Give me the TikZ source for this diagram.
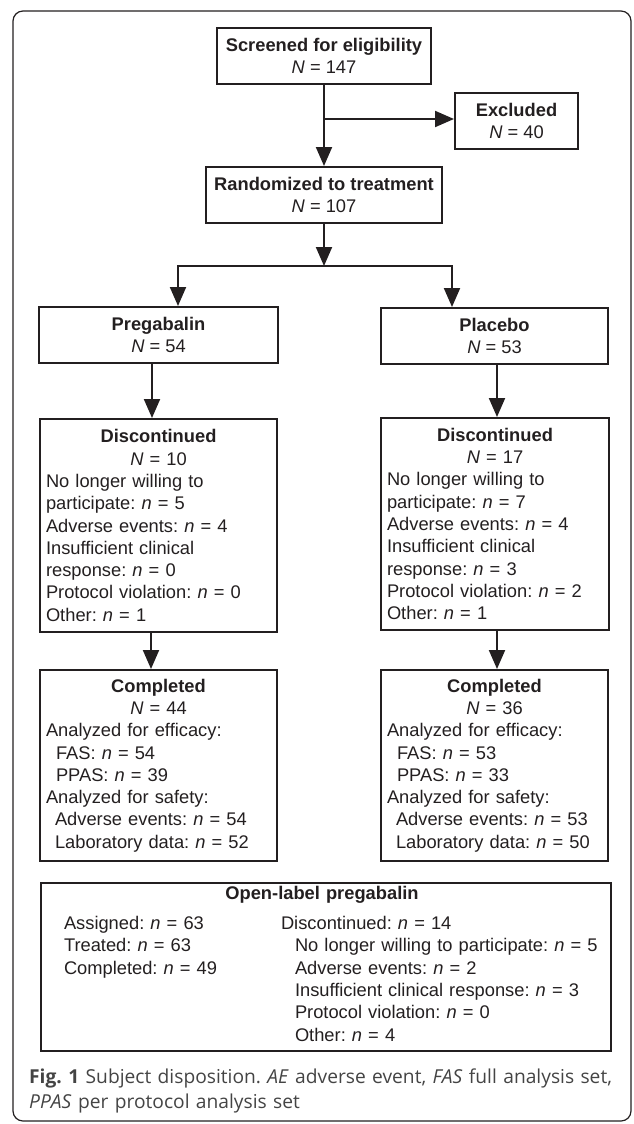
\documentclass[tikz,border=0pt]{standalone}
\usepackage{fontspec}
\setmainfont{Liberation Sans}
\newfontfamily\capfont{Open Sans}
\usetikzlibrary{arrows.meta}
\definecolor{ink}{HTML}{231F20}
\definecolor{captext}{HTML}{444444}
\newcommand{\boxmid}[1]{\makebox[\linewidth]{#1}}
\frenchspacing

\begin{document}
\begin{tikzpicture}[x=1pt, y=-1pt,
  box/.style={draw=ink, line width=2pt, text=ink, inner xsep=6pt, inner ysep=0pt,
    font=\fontsize{18.3}{22.3}\selectfont},
  headbox/.style={box, align=center},
  listbox/.style={box, align=left},
  link/.style={draw=ink, line width=2pt},
  arr/.style={link, -{Triangle[length=19pt,width=16pt]}}]
\useasboundingbox (0,0) rectangle (634,1124);
\draw[ink, line width=1.2pt, rounded corners=10pt] (13,11) rectangle (631,1121);

% top of the flow
\node[headbox, minimum width=214pt, minimum height=56pt] (screen) at (324,56) {\textbf{Screened for eligibility}\\\textit{N} = 147};
\node[headbox, minimum width=123pt, minimum height=56pt] (excl) at (516.5,121) {\textbf{Excluded}\\\textit{N} = 40};
\node[headbox, minimum width=236pt, minimum height=56pt] (rand) at (324,195) {\textbf{Randomized to treatment}\\\textit{N} = 107};

% the two arms
\node[headbox, minimum width=239pt, minimum height=56pt] (preg) at (158.5,335) {\textbf{Pregabalin}\\\textit{N} = 54};
\node[headbox, minimum width=227pt, minimum height=56pt] (plac) at (494.5,336) {\textbf{Placebo}\\\textit{N} = 53};

\node[listbox, text width=225pt, minimum height=213pt] (discL) at (158.5,525.5) {\boxmid{\textbf{Discontinued}}\\
  \boxmid{\textit{N} = 10}\\
  No longer willing to\\
  participate: \textit{n} = 5\\
  Adverse events: \textit{n} = 4\\
  Insufficient clinical\\
  response: \textit{n} = 0\\
  Protocol violation: \textit{n} = 0\\
  Other: \textit{n} = 1};
\node[listbox, text width=216pt, minimum height=212pt] (discR) at (495,524) {\boxmid{\textbf{Discontinued}}\\
  \boxmid{\textit{N} = 17}\\
  No longer willing to\\
  participate: \textit{n} = 7\\
  Adverse events: \textit{n} = 4\\
  Insufficient clinical\\
  response: \textit{n} = 3\\
  Protocol violation: \textit{n} = 2\\
  Other: \textit{n} = 1};

\node[listbox, text width=225pt, minimum height=191pt] (compL) at (158.5,765.5) {\boxmid{\textbf{Completed}}\\
  \boxmid{\textit{N} = 44}\\
  Analyzed for efficacy:\\
  \hspace*{10pt}FAS: \textit{n} = 54\\
  \hspace*{10pt}PPAS: \textit{n} = 39\\
  Analyzed for safety:\\
  \hspace*{9pt}Adverse events: \textit{n} = 54\\
  \hspace*{9pt}Laboratory data: \textit{n} = 52};
\node[listbox, text width=215pt, minimum height=191pt] (compR) at (494.5,765.5) {\boxmid{\textbf{Completed}}\\
  \boxmid{\textit{N} = 36}\\
  Analyzed for efficacy:\\
  \hspace*{10pt}FAS: \textit{n} = 53\\
  \hspace*{10pt}PPAS: \textit{n} = 33\\
  Analyzed for safety:\\
  \hspace*{9pt}Adverse events: \textit{n} = 53\\
  \hspace*{9pt}Laboratory data: \textit{n} = 50};

% open-label phase
\node[listbox, text width=558pt, minimum height=168pt] (open) at (326,967) {\vspace*{8pt}%
  \boxmid{\textbf{Open-label pregabalin}\hspace*{8pt}}\\
  \hspace*{17pt}\begin{tabular}[t]{@{}p{217pt}@{}l@{}}
  Assigned: \textit{n} = 63 & Discontinued: \textit{n} = 14\\
  Treated: \textit{n} = 63 & \hspace*{14pt}No longer willing to participate: \textit{n} = 5\\
  Completed: \textit{n} = 49 & \hspace*{14pt}Adverse events: \textit{n} = 2\\
  & \hspace*{14pt}Insufficient clinical response: \textit{n} = 3\\
  & \hspace*{14pt}Protocol violation: \textit{n} = 0\\
  & \hspace*{14pt}Other: \textit{n} = 4
  \end{tabular}};

% connectors
\coordinate (split) at (324,119);
\coordinate (fork) at (324,266);
\coordinate (forkL) at (178,266);
\coordinate (forkR) at (452,266);
\draw[link] (screen.south) -- (split);
\draw[arr] (split) -- (rand.north);
\draw[arr] (split) -- (split -| excl.west);
\draw[arr] (rand.south) -- (fork);
\draw[arr] (fork) -| (forkL |- preg.north);
\draw[arr] (fork) -| (forkR |- plac.north);
\draw[arr] ([xshift=-6.5pt]preg.south) -- ([xshift=-6.5pt]discL.north);
\draw[arr] ([xshift=2.5pt]plac.south) -- ([xshift=2pt]discR.north);
\draw[arr] ([xshift=-7.5pt]discL.south) -- ([xshift=-7.5pt]compL.north);
\draw[arr] ([xshift=2pt]discR.south) -- ([xshift=2.5pt]compR.north);

% caption
\node[anchor=base west, text width=600pt, align=left, inner sep=0pt, text=captext,
  font=\capfont\fontsize{19.2}{25}\selectfont] (caption) at (29,1083)
  {\textbf{Fig. 1} Subject disposition. \textit{AE} adverse event, \textit{FAS} full analysis set,\\\textit{PPAS} per protocol analysis set};
\end{tikzpicture}
\end{document}
